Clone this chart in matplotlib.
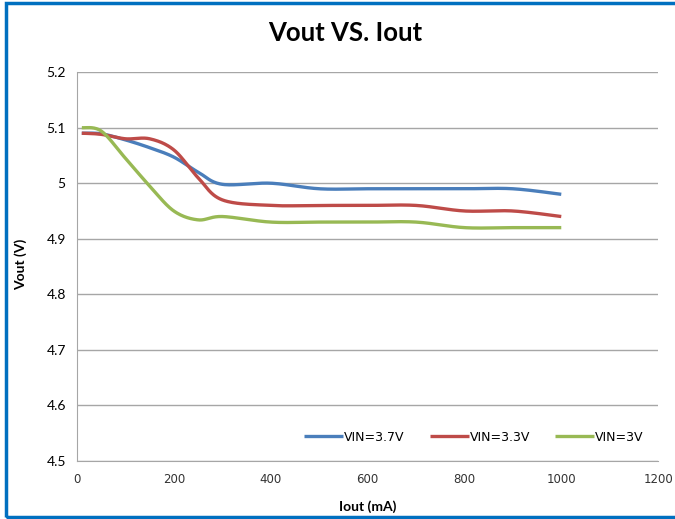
import numpy as np
import matplotlib
matplotlib.use("Agg")
import matplotlib.pyplot as plt
from matplotlib.patches import Rectangle

# Data
iout = [10, 50, 100, 150, 200, 250, 300, 400, 500, 600, 700, 800, 900, 1000]
vin_37 = [5.090, 5.089, 5.078, 5.064, 5.047, 5.020, 4.998, 5.000, 4.990, 4.990, 4.990, 4.990, 4.990, 4.980]
vin_33 = [5.090, 5.088, 5.080, 5.080, 5.060, 5.010, 4.970, 4.960, 4.960, 4.960, 4.960, 4.950, 4.950, 4.940]
vin_30 = [5.100, 5.094, 5.045, 4.995, 4.950, 4.934, 4.940, 4.930, 4.930, 4.930, 4.930, 4.920, 4.920, 4.920]
labels = ["VIN=3.7V", "VIN=3.3V", "VIN=3V"]
colors = ["#4A7EBB", "#BE4B48", "#98B954"]
yticks = [4.5, 4.6, 4.7, 4.8, 4.9, 5.0, 5.1, 5.2]
yticklabels = ["4.5", "4.6", "4.7", "4.8", "4.9", "5", "5.1", "5.2"]
xticks = [0, 200, 400, 600, 800, 1000, 1200]


def smooth(x, y, n=30):
    # Excel-style smoothed line: cubic Bezier through points (Catmull-Rom tangents)
    x = np.asarray(x, float)
    y = np.asarray(y, float)
    px = np.concatenate([[x[0]], x, [x[-1]]])
    py = np.concatenate([[y[0]], y, [y[-1]]])
    xs, ys = [], []
    t = np.linspace(0, 1, n)
    for i in range(1, len(px) - 2):
        p0 = np.array([px[i], py[i]])
        p3 = np.array([px[i + 1], py[i + 1]])
        c1 = p0 + (np.array([px[i + 1], py[i + 1]]) - np.array([px[i - 1], py[i - 1]])) / 6
        c2 = p3 - (np.array([px[i + 2], py[i + 2]]) - np.array([px[i], py[i]])) / 6
        b = ((1 - t) ** 3)[:, None] * p0 + (3 * (1 - t) ** 2 * t)[:, None] * c1 \
            + (3 * (1 - t) * t ** 2)[:, None] * c2 + (t ** 3)[:, None] * p3
        xs.extend(b[:, 0])
        ys.extend(b[:, 1])
    return xs, ys


fig = plt.figure(figsize=(6.75, 5.19), dpi=100)
ax = fig.add_axes([0.114, 0.112, 0.861, 0.749])

for ys, lab, col in zip([vin_37, vin_33, vin_30], labels, colors):
    sx, sy = smooth(iout, ys)
    ax.plot(sx, sy, color=col, lw=2.4, label=lab, solid_capstyle="butt")

ax.set_xlim(0, 1200)
ax.set_ylim(4.5, 5.2)
ax.set_yticks(yticks)
ax.set_yticklabels(yticklabels, fontfamily="Lato", fontsize=10)
ax.set_xticks(xticks)
ax.set_xticklabels([str(v) for v in xticks], fontfamily="DejaVu Sans", fontsize=8.5, color="#333333")
ax.tick_params(axis="both", length=0, pad=8)
ax.tick_params(axis="x", pad=9)
ax.grid(axis="y", color="#A6A6A6", lw=1)
ax.set_axisbelow(True)
for side in ["top", "right"]:
    ax.spines[side].set_visible(False)
ax.spines["left"].set_color("#A6A6A6")
ax.spines["bottom"].set_color("#A6A6A6")

fig.text(0.511, 0.936, "Vout VS. Iout", ha="center", va="center",
         fontfamily="Lato", fontweight="bold", fontsize=18.5)
fig.text(0.544, 0.023, "Iout (mA)", ha="center", va="center",
         fontfamily="Lato", fontweight="bold", fontsize=10)
fig.text(0.03, 0.49, "Vout (V)", ha="center", va="center", rotation=90,
         fontfamily="Lato", fontweight="bold", fontsize=10)

leg = ax.legend(loc="lower left", bbox_to_anchor=(0.372, 0.015), ncol=3, frameon=False,
                handlelength=3.1, handletextpad=0.1, columnspacing=2.0,
                prop={"family": "DejaVu Sans", "size": 9})

fig.patches.append(Rectangle((0.0085, 0.003), 1.1, 0.992, transform=fig.transFigure,
                             fill=False, edgecolor="#0070C0", lw=2.5))

fig.savefig("out.png", dpi=100)
